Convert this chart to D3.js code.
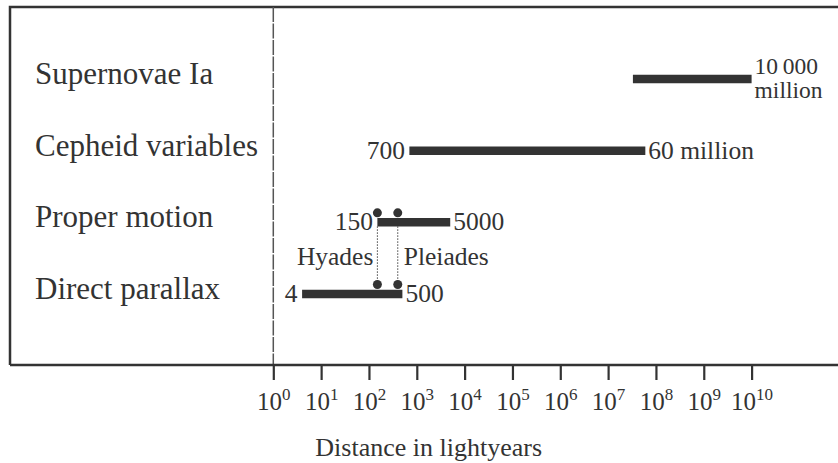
<!DOCTYPE html>
<html>
<head>
<meta charset="utf-8">
<script src="https://cdn.jsdelivr.net/npm/d3@7"></script>
<style>
  body { margin: 0; background: #fff; }
  svg text { font-family: "Liberation Serif", "DejaVu Serif", serif; fill: #333; }
</style>
</head>
<body>
<div id="viz"></div>
<script>
var methods   = ['Supernovae Ia', 'Cepheid variables', 'Proper motion', 'Direct parallax'],
    rangeLow  = [3.3e7, 700, 150, 4],
    rangeHigh = [1e10, 6e7, 5000, 500],
    lowLabels  = ['', '700', '150', '4'],
    highLabels = [['10\u2009000', 'million'], ['60 million'], ['5000'], ['500']],
    clusters      = ['Hyades', 'Pleiades'],
    clusterDist   = [150, 400],
    tickExponents = [0, 1, 2, 3, 4, 5, 6, 7, 8, 9, 10],

    width = 838,
    height = 463,
    ink = '#333',

    svg = d3.select('#viz')
        .append('svg')
            .attr('width', width)
            .attr('height', height),

    x = d3.scaleLog()
        .domain([1, 1e10])
        .range([273.3, 751.6]),

    y = d3.scalePoint()
        .domain(methods)
        .range([79, 294]),

    boxTop = 7,
    boxBottom = 365,
    boxLeft = 10;

// frame (open on the right)
svg.append('path')
    .attr('d', 'M' + width + ',' + boxTop + 'H' + boxLeft + 'V' + boxBottom)
    .style('fill', 'none')
    .style('stroke', ink)
    .style('stroke-width', 2.5);

// dashed line at 10^0
svg.append('line')
    .attr('x1', x(1)).attr('x2', x(1))
    .attr('y1', boxTop).attr('y2', boxBottom)
    .style('stroke', '#555')
    .style('stroke-width', 1.5)
    .style('stroke-dasharray', '15,1.5');

// x axis
var axis = d3.axisBottom(x)
    .tickValues(tickExponents.map(function (e) { return Math.pow(10, e); }))
    .tickSize(15)
    .tickSizeOuter(0)
    .tickFormat('');

var axisG = svg.append('g')
    .attr('transform', 'translate(0,' + boxBottom + ')')
    .call(axis);

axisG.select('.domain').remove();
axisG.append('line')
    .attr('x1', boxLeft).attr('x2', width)
    .style('stroke', ink)
    .style('stroke-width', 2.5);
axisG.selectAll('.tick line')
    .style('stroke', ink)
    .style('stroke-width', 2.2);

var tickText = axisG.selectAll('.tick')
    .append('text')
        .attr('y', 45)
        .attr('text-anchor', 'middle')
        .style('font-size', '25px');
tickText.append('tspan').text('10');
tickText.append('tspan')
    .attr('dy', -10)
    .style('font-size', '17px')
    .text(function (d) { return Math.round(Math.log10(d)); });

svg.append('text')
    .attr('x', 428.7)
    .attr('y', 456)
    .attr('text-anchor', 'middle')
    .style('font-size', '26px')
    .text('Distance in lightyears');

// category labels
svg.append('g').selectAll('text')
    .data(methods)
    .enter().append('text')
        .attr('x', 35)
        .attr('y', function (d) { return y(d) + 5; })
        .style('font-size', '31px')
        .text(function (d) { return d; });

// range bars
svg.append('g').selectAll('line')
    .data(methods)
    .enter().append('line')
        .attr('x1', function (d, i) { return x(rangeLow[i]); })
        .attr('x2', function (d, i) { return x(rangeHigh[i]); })
        .attr('y1', function (d) { return y(d); })
        .attr('y2', function (d) { return y(d); })
        .style('stroke', ink)
        .style('stroke-width', 8.5);

// end labels
svg.append('g').selectAll('text')
    .data(methods)
    .enter().append('text')
        .attr('x', function (d, i) { return x(rangeLow[i]) - 4.5; })
        .attr('y', function (d) { return y(d) + 8; })
        .attr('text-anchor', 'end')
        .style('font-size', '25.5px')
        .text(function (d, i) { return lowLabels[i]; });

// upper end labels, one text per line
methods.forEach(function (m, i) {
    var lines = highLabels[i];
    svg.append('g').selectAll('text')
        .data(lines)
        .enter().append('text')
            .attr('x', x(rangeHigh[i]) + 3)
            .attr('y', function (t, j) {
                return lines.length > 1 ? y(m) - 5 + j * 24 : y(m) + 8;
            })
            .style('font-size', lines.length > 1 ? '23.5px' : '25.5px')
            .text(function (t) { return t; });
});

// star clusters: dotted links between proper motion and parallax
var upper = y('Proper motion'),
    lower = y('Direct parallax');

svg.append('g').selectAll('line')
    .data(clusterDist)
    .enter().append('line')
        .attr('x1', function (d) { return x(d); })
        .attr('x2', function (d) { return x(d); })
        .attr('y1', upper + 4)
        .attr('y2', lower - 10)
        .style('stroke', '#444')
        .style('stroke-width', 1)
        .style('stroke-dasharray', '1.5,1.5');

[upper, lower].forEach(function (row) {
    svg.append('g').selectAll('circle')
        .data(clusterDist)
        .enter().append('circle')
            .attr('cx', function (d) { return x(d); })
            .attr('cy', row - 9.5)
            .attr('r', 4.5)
            .style('fill', ink);
});

svg.append('g').selectAll('text')
    .data(clusters)
    .enter().append('text')
        .attr('x', function (d, i) { return x(clusterDist[i]) + (i === 0 ? -4 : 6); })
        .attr('y', 265)
        .attr('text-anchor', function (d, i) { return i === 0 ? 'end' : 'start'; })
        .style('font-size', '25.5px')
        .text(function (d) { return d; });
</script>
</body>
</html>
